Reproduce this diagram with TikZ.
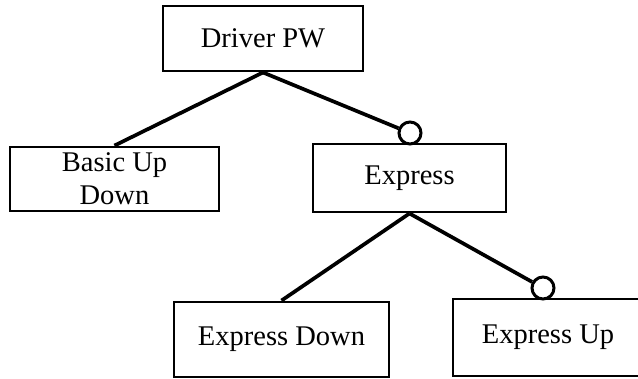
\documentclass[tikz,border=0pt]{standalone}
\usepackage{fontspec}
\setmainfont{Liberation Serif}
\begin{document}
\begin{tikzpicture}[x=1pt,y=-1pt,
  feature/.style={draw, line width=2.9pt, rectangle, inner sep=0pt,
    font=\fontsize{28.5}{33}\selectfont, align=center},
  link/.style={line width=3.7pt},
  optmark/.style={draw, circle, line width=3pt, minimum size=22pt,
    inner sep=0pt, fill=white}]
\useasboundingbox (0,0) rectangle (638,378);
\clip (0,0) rectangle (638,378);

% feature boxes
\node[feature, minimum width=200pt, minimum height=65pt] (driver) at (263,38.5) {Driver PW};
\node[feature, minimum width=209pt, minimum height=64pt] (basic) at (114.5,179) {Basic Up\\Down};
\node[feature, minimum width=193pt, minimum height=68pt] (express) at (409.5,178) {Express};
\node[feature, minimum width=215pt, minimum height=75pt] (exdown) at (281.5,339.5) {Express Down};
\node[feature, minimum width=190pt, minimum height=77pt] (exup) at (548,337.5) {Express Up};

% optional-feature markers
\node[optmark] (optexpress) at (410,133) {};
\node[optmark] (optexup) at (543,288) {};

% connectors
\draw[link] (driver.south) -- (basic.north);
\draw[link] (driver.south) -- (optexpress);
\draw[link] (express.south) -- (exdown.north);
\draw[link] (express.south) -- (optexup);
\end{tikzpicture}
\end{document}
